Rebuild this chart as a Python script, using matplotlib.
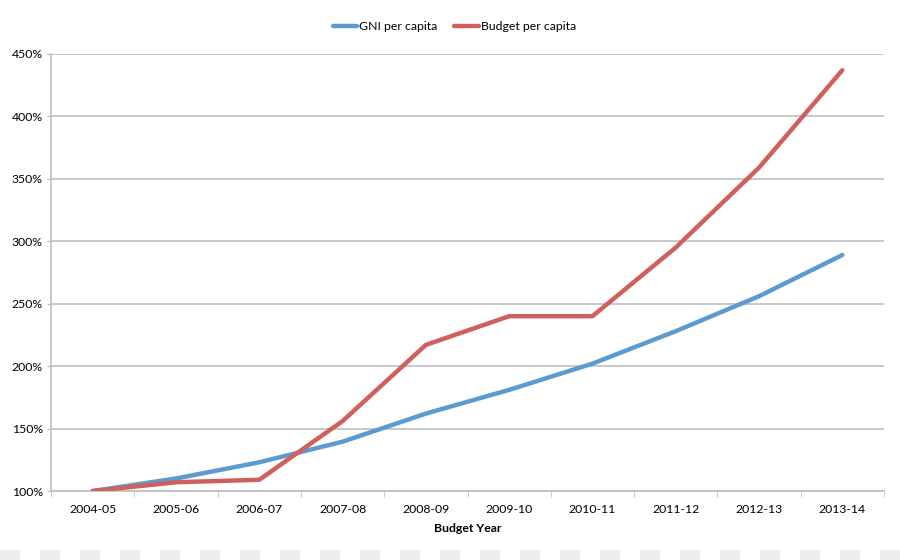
import matplotlib.pyplot as plt
from matplotlib.patches import Rectangle
from matplotlib.ticker import FuncFormatter, MultipleLocator

plt.rcParams['font.family'] = ['Lato', 'DejaVu Sans']

# data
years = ['2004-05', '2005-06', '2006-07', '2007-08', '2008-09',
         '2009-10', '2010-11', '2011-12', '2012-13', '2013-14']
gni_per_capita = [100, 110, 123, 139.5, 162, 181, 202, 228, 256, 289]
budget_per_capita = [100, 107, 109, 156, 217, 240, 240, 295, 359, 437]

blue = '#5B9BD0'
red = '#D0605C'
grid_col = '#BFBFBF'

fig = plt.figure(figsize=(9, 5.6), dpi=100)
ax = fig.add_axes([0.0567, 0.1232, 0.9255, 0.7804])

x = range(len(years))
ax.plot(x, gni_per_capita, color=blue, lw=3.2, label='GNI per capita',
        solid_capstyle='round', zorder=3)
ax.plot(x, budget_per_capita, color=red, lw=3.2, label='Budget per capita',
        solid_capstyle='round', zorder=3)

ax.set_xlim(-0.5, len(years) - 0.5)
ax.set_ylim(100, 450)
ax.yaxis.set_major_locator(MultipleLocator(50))
ax.yaxis.set_major_formatter(FuncFormatter(lambda v, p: f'{v:.0f}%'))
ax.grid(axis='y', color=grid_col, lw=1.2)
ax.set_axisbelow(True)

ax.set_xticks(list(x))
ax.set_xticklabels(years)
ax.set_xticks([i - 0.5 for i in range(len(years) + 1)], minor=True)
ax.tick_params(axis='x', which='major', length=0, pad=9, labelsize=8.8)
ax.tick_params(axis='x', which='minor', length=4, color=grid_col, direction='out')
ax.tick_params(axis='y', length=3, color=grid_col, labelsize=8.8, pad=3)

for side in ['top', 'right']:
    ax.spines[side].set_visible(False)
for side in ['left', 'bottom']:
    ax.spines[side].set_color(grid_col)
    ax.spines[side].set_linewidth(1.2)

ax.set_xlabel('Budget Year', fontsize=8.8, fontweight='bold', labelpad=6)

ax.legend(loc='center', bbox_to_anchor=(0.484, 1.062), ncol=2, frameon=False,
          fontsize=8.8, handlelength=2.0, handletextpad=0.15, columnspacing=1.4)

# checkered strip along the bottom edge of the image
for px in range(0, 900, 40):
    fig.add_artist(Rectangle((px / 900, 0), 20 / 900, 10 / 560,
                             transform=fig.transFigure, color='#EEEEEE', lw=0))

fig.savefig('out.png', dpi=100)
